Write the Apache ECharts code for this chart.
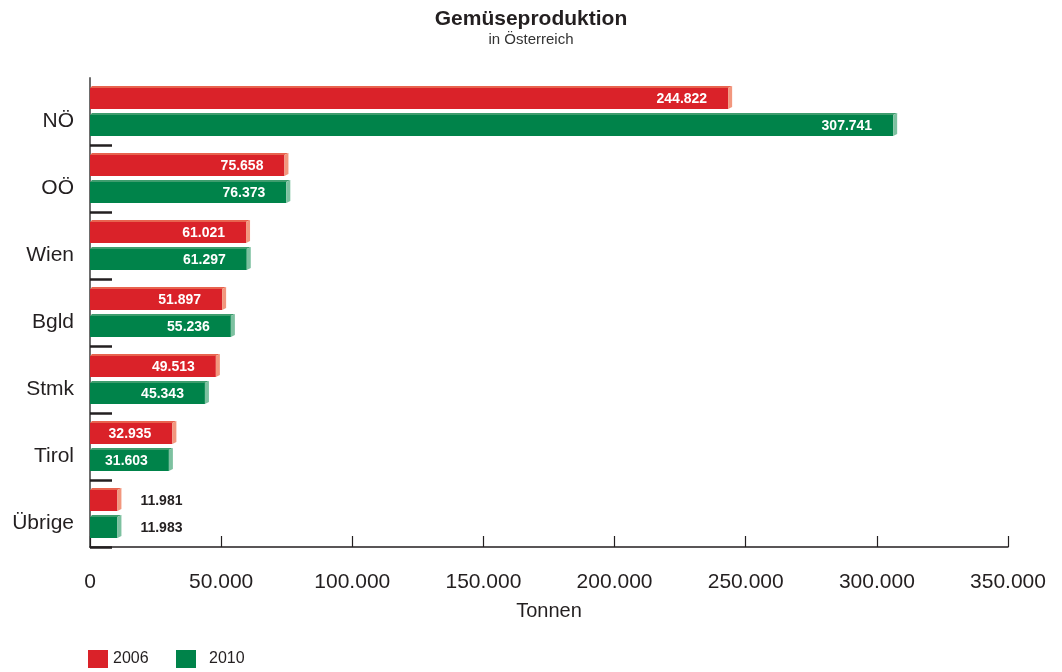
<!DOCTYPE html>
<html>
<head>
<meta charset="utf-8">
<script src="https://cdn.jsdelivr.net/npm/echarts@6/dist/echarts.min.js"></script>
<style>
  html, body { margin: 0; padding: 0; background: #ffffff; }
  #chart { width: 1062px; height: 672px; }
</style>
</head>
<body>
<div id="chart"></div>
<script>
var categories = ['NÖ', 'OÖ', 'Wien', 'Bgld', 'Stmk', 'Tirol', 'Übrige'];
var values2006 = [244822, 75658, 61021, 51897, 49513, 32935, 11981];
var values2010 = [307741, 76373, 61297, 55236, 45343, 31603, 11983];
var seriesNames = ['2006', '2010'];
var xTicks = { min: 0, max: 350000, interval: 50000 };

var FONT = '"Liberation Sans", Arial, Helvetica, sans-serif';
var TEXT = '#231F20';

function fmt(v) {
  return String(v).replace(/\B(?=(\d{3})+(?!\d))/g, '.');
}

var palettes = [
  { face: '#DA2229', top: '#E8634F', side: '#F2977E' },
  { face: '#00834A', top: '#3F9D6E', side: '#7DC1A0' }
];
var faceOffsets = [-23.5, 3.5];   // face top relative to band centre (px)
var FACE_H = 21, DEPTH = 2, SIDE = 4;

function makeRender(k) {
  var pal = palettes[k];
  return function (params, api) {
    var v = api.value(0);
    var ci = api.value(1);
    var p0 = api.coord([0, ci]);
    var p1 = api.coord([v, ci]);
    var x0 = p0[0], xe = p1[0], cy = p0[1];
    var top = cy + faceOffsets[k];
    var bot = top + FACE_H;
    var children = [
      { type: 'rect', shape: { x: x0, y: top, width: xe - SIDE - x0, height: FACE_H },
        style: { fill: pal.face } },
      { type: 'polygon', shape: { points: [[x0, top], [x0 + DEPTH, top - DEPTH], [xe, top - DEPTH], [xe - SIDE, top]] },
        style: { fill: pal.top } },
      { type: 'polygon', shape: { points: [[xe - SIDE, top], [xe, top - DEPTH], [xe, bot - DEPTH], [xe - SIDE, bot]] },
        style: { fill: pal.side } }
    ];
    var inside = (xe - x0) > 70;
    children.push({
      type: 'text',
      style: {
        text: fmt(v),
        x: inside ? xe - 25 : xe + 19,
        y: (top + bot) / 2 + 0.5,
        align: inside ? 'right' : 'left',
        verticalAlign: 'middle',
        fill: inside ? '#ffffff' : TEXT,
        font: 'bold 14px ' + FONT
      }
    });
    return { type: 'group', children: children };
  };
}

var allValues = [values2006, values2010];
var series = seriesNames.map(function (name, k) {
  return {
    name: name,
    type: 'custom',
    renderItem: makeRender(k),
    itemStyle: { color: palettes[k].face },
    encode: { x: 0, y: 1 },
    data: allValues[k].map(function (v, i) { return [v, i]; })
  };
});

var chart = echarts.init(document.getElementById('chart'), null, { renderer: 'canvas' });
chart.setOption({
  animation: false,
  backgroundColor: '#ffffff',
  textStyle: { fontFamily: FONT },
  title: {
    text: 'Gemüseproduktion',
    subtext: 'in Österreich',
    left: 'center',
    top: 4,
    itemGap: 2,
    textStyle: { fontFamily: FONT, fontSize: 21, fontWeight: 'bold', color: TEXT },
    subtextStyle: { fontFamily: FONT, fontSize: 15, color: '#333333' }
  },
  legend: [
    {
      data: [seriesNames[0]], left: 83, top: 645, itemWidth: 20, itemHeight: 18, icon: 'rect',
      textStyle: { fontFamily: FONT, fontSize: 16, color: TEXT }
    },
    {
      data: [seriesNames[1]], left: 171, top: 645, itemWidth: 20, itemHeight: 18, icon: 'rect',
      textStyle: { fontFamily: FONT, fontSize: 16, color: TEXT, padding: [0, 0, 0, 8] }
    }
  ],
  grid: { left: 90, right: 54, top: 78, bottom: 125, containLabel: false },
  xAxis: {
    type: 'value',
    min: xTicks.min, max: xTicks.max, interval: xTicks.interval,
    name: 'Tonnen',
    nameLocation: 'middle',
    nameGap: 54,
    nameTextStyle: { fontFamily: FONT, fontSize: 20, color: TEXT },
    axisLine: { show: true, lineStyle: { color: TEXT, width: 1.5 } },
    axisTick: { show: true, inside: true, length: 11, lineStyle: { color: TEXT, width: 1.2 } },
    axisLabel: { fontFamily: FONT, fontSize: 21, color: TEXT, margin: 25, formatter: fmt },
    splitLine: { show: false }
  },
  yAxis: {
    type: 'category',
    data: categories,
    inverse: true,
    axisLine: { show: true, lineStyle: { color: '#6d6d6d', width: 2 } },
    axisTick: {
      show: true, inside: true, length: 22,
      interval: function (i) { return i !== 0; },
      lineStyle: { color: TEXT, width: 2.5 }
    },
    axisLabel: { fontFamily: FONT, fontSize: 21, color: TEXT, margin: 16, verticalAlign: 'top', lineHeight: 19 },
    splitLine: { show: false }
  },
  series: series
});
</script>
</body>
</html>
